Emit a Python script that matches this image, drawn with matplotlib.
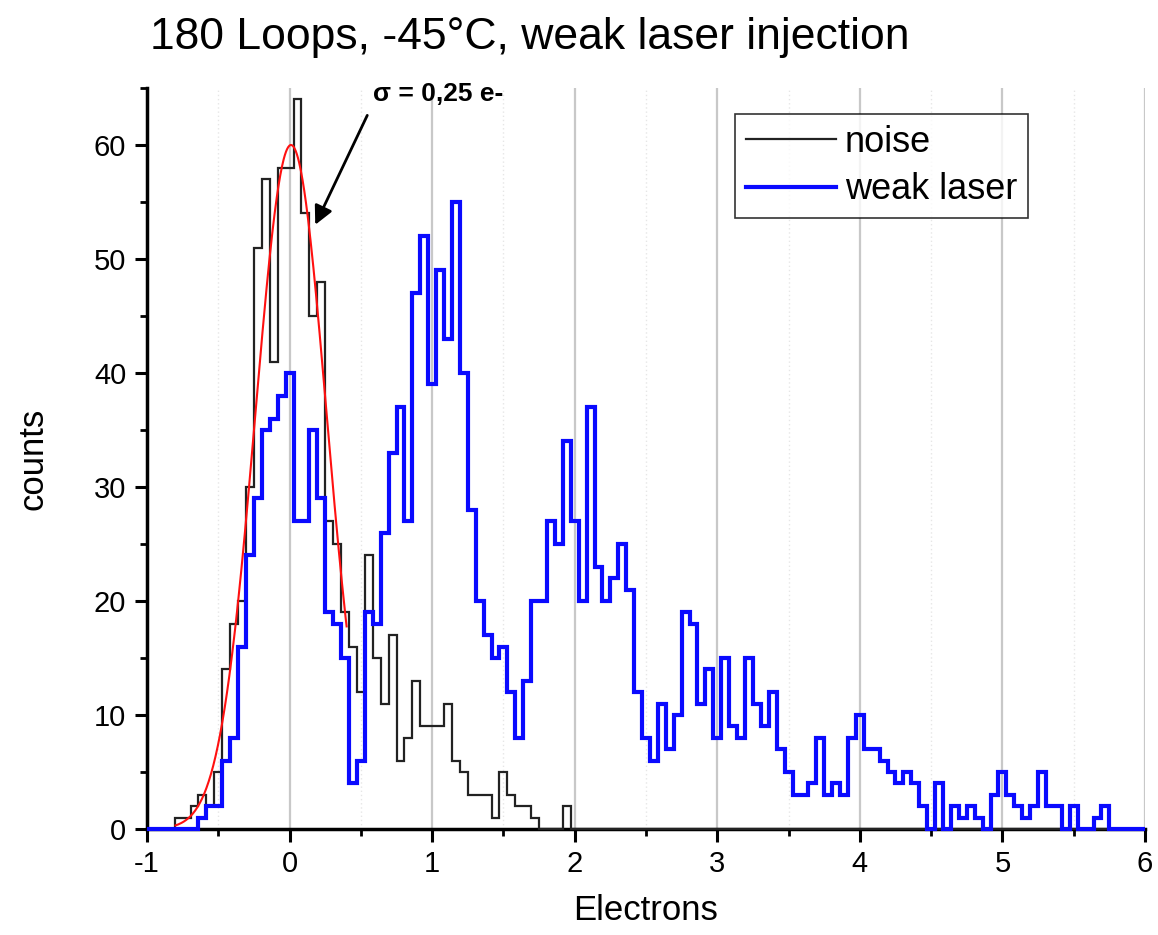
import numpy as np
import matplotlib
matplotlib.use("Agg")
import matplotlib.pyplot as plt
from matplotlib.ticker import MultipleLocator

plt.rcParams['font.family'] = ['Liberation Sans', 'DejaVu Sans']
plt.rcParams['axes.unicode_minus'] = False

# Histogram binning: bins are centred on multiples of 1/18 electron
BINS_PER_ELECTRON = 18

# Dark-noise histogram (counts per bin, first bin index given separately)
noise_first_bin = -14
noise_counts = [1, 1, 2, 3, 2, 5, 14, 18, 20, 30,
                51, 57, 41, 58, 58, 64, 54, 45, 48, 27,
                25, 19, 16, 12, 24, 15, 11, 17, 6, 8,
                13, 9, 9, 9, 11, 6, 5, 3, 3, 3,
                1, 5, 3, 2, 2, 1, 0, 0, 0, 2]

# Weak laser injection histogram
laser_first_bin = -11
laser_counts = [1, 2, 2, 6, 8, 16, 24, 29, 35, 36, 38, 40,
                27, 27, 35, 29, 19, 18, 15, 4, 6, 19,
                18, 26, 33, 37, 27, 47, 52, 39, 49, 43,
                55, 40, 28, 20, 17, 15, 16, 12, 8, 13,
                20, 20, 27, 25, 34, 27, 20, 37, 23, 20,
                22, 25, 21, 12, 8, 6, 11, 7, 10, 19,
                18, 11, 14, 8, 15, 9, 8, 15, 11, 9,
                12, 7, 5, 3, 3, 4, 8, 3, 4, 3,
                8, 10, 7, 7, 6, 5, 4, 5, 4, 2,
                0, 4, 0, 2, 1, 2, 1, 0, 3, 5,
                3, 2, 1, 2, 5, 2, 2, 0, 2, 0,
                0, 1, 2]

# Gaussian fit of the noise peak
fit_amplitude = 60.0
fit_center = 0.01
fit_sigma = 0.25
fit_span = (-0.8, 0.4)

x_limits = (-1, 6)
y_limits = (0, 65)


def full_histogram(first_bin, counts, k_min=-19, k_max=109):
    values = np.zeros(k_max - k_min + 1)
    start = first_bin - k_min
    values[start:start + len(counts)] = counts
    edges = (np.arange(k_min, k_max + 2) - 0.5) / BINS_PER_ELECTRON
    edges = np.clip(edges, *x_limits)
    return edges, values


fig = plt.figure(figsize=(11.58, 9.35), dpi=100)
ax = fig.add_axes([147 / 1158, 1 - 829 / 935, 998 / 1158, 741 / 935])

# vertical grid
ax.set_axisbelow(True)
ax.xaxis.set_major_locator(MultipleLocator(1))
ax.xaxis.set_minor_locator(MultipleLocator(0.5))
ax.yaxis.set_major_locator(MultipleLocator(10))
ax.yaxis.set_minor_locator(MultipleLocator(5))
ax.grid(axis='x', which='major', color='#c8c8c8', lw=1.6)
ax.grid(axis='x', which='minor', color='#e6e6e6', lw=1.0, ls=(0, (1, 2)))

edges_n, vals_n = full_histogram(noise_first_bin, noise_counts)
edges_l, vals_l = full_histogram(laser_first_bin, laser_counts)

ax.stairs(vals_n, edges_n, baseline=None, color='#222222', lw=1.6,
          label='noise', zorder=3, clip_on=False)
ax.stairs(vals_l, edges_l, baseline=None, color='#0a0aff', lw=3.0,
          label='weak laser', zorder=4, clip_on=False)

xf = np.linspace(*fit_span, 300)
yf = fit_amplitude * np.exp(-(xf - fit_center) ** 2 / (2 * fit_sigma ** 2))
ax.plot(xf, yf, color='#ff1010', lw=1.5, zorder=5)

# sigma annotation
ax.annotate('', xy=(0.18, 53.0), xytext=(0.545, 62.6),
            arrowprops=dict(arrowstyle='-|>', color='black', lw=2.0,
                            mutation_scale=28, shrinkA=0, shrinkB=0),
            zorder=6)
ax.text(0.585, 64.5, 'σ = 0,25 e-', fontsize=19, fontweight='bold',
        ha='left', va='center', zorder=6)

ax.set_xlim(*x_limits)
ax.set_ylim(*y_limits)

for side in ('top', 'right'):
    ax.spines[side].set_visible(False)
for side in ('left', 'bottom'):
    ax.spines[side].set_linewidth(2.5)

ax.tick_params(which='major', direction='out', length=9, width=2.2,
               labelsize=21, pad=6)
ax.tick_params(which='minor', direction='out', length=5, width=2.0)

ax.set_xlabel('Electrons', fontsize=25, labelpad=12)
ax.set_ylabel('counts', fontsize=25, labelpad=32)

leg = ax.legend(loc='upper left', bbox_to_anchor=(0.589, 0.965),
                fontsize=26, frameon=True, fancybox=False,
                handlelength=2.5, handletextpad=0.25, borderpad=0.3,
                labelspacing=0.35, borderaxespad=0)
leg.get_frame().set_edgecolor('black')
leg.get_frame().set_linewidth(1.2)

fig.text(150 / 1158, 1 - 38 / 935, '180 Loops, -45°C, weak laser injection',
         fontsize=32, ha='left', va='center')

fig.savefig('out.png', dpi=100)
